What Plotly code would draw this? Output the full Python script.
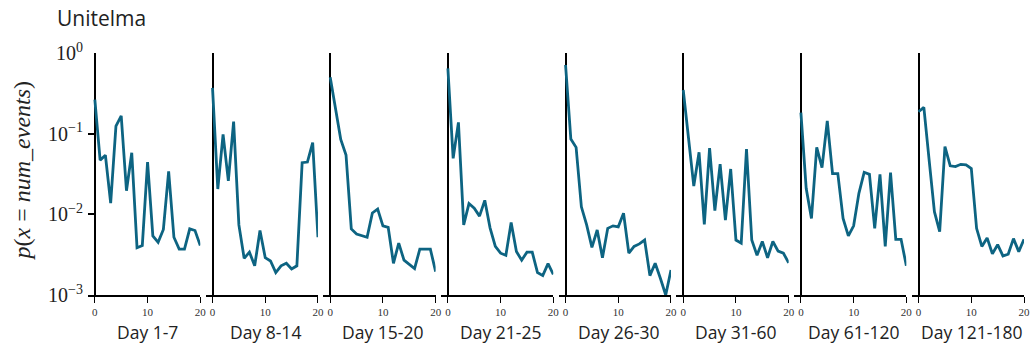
import plotly.graph_objects as go

# Event-count distributions per time window, x = 0..20 events
num_events = list(range(21))

periods = ["Day 1-7", "Day 8-14", "Day 15-20", "Day 21-25",
           "Day 26-30", "Day 31-60", "Day 61-120", "Day 121-180"]

day_1_7 = [0.264, 0.047, 0.054, 0.0138, 0.124, 0.166, 0.0196, 0.058, 0.00386, 0.0041, 0.0443,
           0.0054, 0.0045, 0.0065, 0.034, 0.0052, 0.0037, 0.0037, 0.0066, 0.0063, 0.0041]
day_8_14 = [0.37, 0.0206, 0.098, 0.026, 0.141, 0.0074, 0.00285, 0.0034, 0.0023, 0.0063, 0.0029,
            0.00264, 0.0019, 0.0023, 0.00247, 0.0021, 0.0023, 0.0437, 0.0445, 0.0775, 0.0052]
day_15_20 = [0.50, 0.206, 0.085, 0.0544, 0.0066, 0.0057, 0.0054, 0.0052, 0.0104, 0.0116, 0.0072,
             0.0069, 0.00247, 0.0044, 0.0027, 0.00236, 0.00212, 0.0037, 0.0037, 0.0037, 0.00195]
day_21_25 = [0.645, 0.0494, 0.138, 0.0074, 0.0136, 0.0119, 0.0095, 0.0149, 0.0068, 0.0040, 0.0033,
             0.0031, 0.0079, 0.00346, 0.0027, 0.0034, 0.0034, 0.0019, 0.00174, 0.00245, 0.0018]
day_26_30 = [0.71, 0.086, 0.0676, 0.0124, 0.0074, 0.0039, 0.0064, 0.0029, 0.0067, 0.0072, 0.0070,
             0.0103, 0.0033, 0.0040, 0.0043, 0.0048, 0.00174, 0.00247, 0.0016, 0.0010, 0.00204]
day_31_60 = [0.348, 0.0875, 0.0224, 0.0587, 0.0075, 0.066, 0.0111, 0.042, 0.0085, 0.0365, 0.0048,
             0.0044, 0.0645, 0.0048, 0.0031, 0.0046, 0.0029, 0.0046, 0.0035, 0.0033, 0.0025]
day_61_120 = [0.182, 0.021, 0.0089, 0.0676, 0.038, 0.1436, 0.032, 0.032, 0.0089, 0.0054, 0.0072,
              0.0182, 0.0332, 0.0313, 0.0067, 0.0313, 0.0040, 0.0329, 0.0049, 0.0049, 0.0023]
day_121_180 = [0.187, 0.212, 0.047, 0.0108, 0.0061, 0.069, 0.040, 0.039, 0.0417, 0.041, 0.037,
               0.0067, 0.0040, 0.0051, 0.00325, 0.0042, 0.00305, 0.0032, 0.0050, 0.00345, 0.0049]

series = [day_1_7, day_8_14, day_15_20, day_21_25,
          day_26_30, day_31_60, day_61_120, day_121_180]

x_ticks = [0, 10, 20]
y_ticks = [1e-3, 1e-2, 1e-1, 1]
y_tick_text = ["10<sup>\u22123</sup>", "10<sup>\u22122</sup>", "10<sup>\u22121</sup>", "10<sup>0</sup>"]

LINE = "#0d6482"
SERIF = "Liberation Serif, DejaVu Serif, serif"
SANS = "Open Sans, Noto Sans, sans-serif"

W, H = 1035, 345
ML, MR, MT, MB = 88, 4, 53, 50
plot_w = W - ML - MR
panel_w = 113.0
step = 118.43

fig = go.Figure()
n = len(periods)
for k in range(n):
    idx = "" if k == 0 else str(k + 1)
    x0 = k * step / plot_w
    x1 = (k * step + panel_w) / plot_w
    fig.add_trace(go.Scatter(
        x=num_events, y=series[k], mode="lines",
        line=dict(color=LINE, width=2.8),
        xaxis="x" + idx, yaxis="y" + idx, showlegend=False,
        hoverinfo="skip"))
    fig.layout["xaxis" + idx] = dict(
        domain=[x0, min(x1, 1.0)], range=[-1.3, 20], anchor="y" + idx,
        showgrid=False, showline=True, linecolor="black", linewidth=1.5,
        zeroline=True, zerolinecolor="black", zerolinewidth=1.5,
        ticks="outside", ticklen=6, tickwidth=1.3, tickcolor="black",
        tickvals=x_ticks, ticktext=[str(v) for v in x_ticks],
        tickfont=dict(family=SERIF, size=11, color="#333"),
        fixedrange=True)
    yax = dict(
        type="log", range=[-3, 0], anchor="x" + idx, domain=[0, 1],
        showgrid=False, showline=False, zeroline=False, fixedrange=True)
    if k == 0:
        yax.update(ticks="inside", ticklen=7, tickwidth=1.5, tickcolor="black",
                   tickvals=y_ticks, ticktext=y_tick_text, ticklabelstandoff=4,
                   tickfont=dict(family=SERIF, size=20, color="#222"))
    else:
        yax.update(showticklabels=False, ticks="")
    fig.layout["yaxis" + idx] = yax
    fig.add_annotation(
        x=10, xref="x" + idx, y=-0.153, yref="paper",
        text=periods[k], showarrow=False, xanchor="center", yanchor="middle",
        font=dict(family=SANS, size=17.5, color="#222"))

fig.add_annotation(
    x=(55 - ML) / plot_w, xref="paper", y=(H - MB - 18) / (H - MT - MB), yref="paper",
    text="Unitelma", showarrow=False, xanchor="left", yanchor="middle",
    font=dict(family=SANS, size=21, color="#222"))

fig.add_annotation(
    x=(22 - ML) / plot_w, xref="paper", y=(H - MB - 170) / (H - MT - MB), yref="paper",
    text="<i>p</i>(<i>x</i> = <i>num_events</i>)", textangle=-90, showarrow=False,
    xanchor="center", yanchor="middle",
    font=dict(family=SERIF, size=24, color="#222"))

fig.update_layout(
    width=W, height=H,
    margin=dict(l=ML, r=MR, t=MT, b=MB),
    paper_bgcolor="white", plot_bgcolor="white")

fig.write_html("out.html")
